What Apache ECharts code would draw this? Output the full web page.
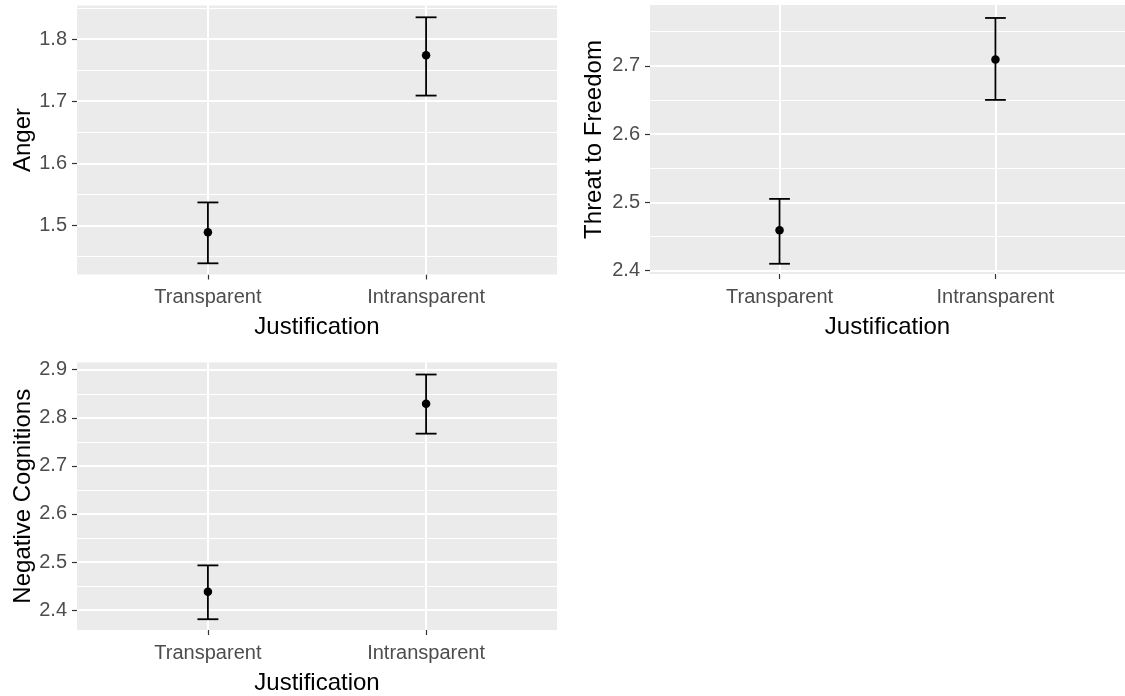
<!DOCTYPE html>
<html>
<head>
<meta charset="utf-8">
<script src="https://cdn.jsdelivr.net/npm/echarts@6/dist/echarts.min.js"></script>
<style>
  html, body { margin: 0; padding: 0; background: #ffffff; }
  #chart { width: 1125px; height: 696px; }
</style>
</head>
<body>
<div id="chart"></div>
<script>
// Group labels on the x axis (positions 1 and 2 on a discrete scale)
const categories = ['Transparent', 'Intransparent'];
const xTitle = 'Justification';

// Panel: Anger
const angerMean = [1.489, 1.774];
const angerLow  = [1.439, 1.709];
const angerHigh = [1.537, 1.835];
const angerTicks = [1.5, 1.6, 1.7, 1.8];
const angerMinor = [1.45, 1.55, 1.65, 1.75, 1.85];
const angerRange = [1.421, 1.854];

// Panel: Threat to Freedom
const threatMean = [2.459, 2.709];
const threatLow  = [2.410, 2.650];
const threatHigh = [2.505, 2.770];
const threatTicks = [2.4, 2.5, 2.6, 2.7];
const threatMinor = [2.45, 2.55, 2.65, 2.75];
const threatRange = [2.395, 2.789];

// Panel: Negative Cognitions
const cognMean = [2.438, 2.829];
const cognLow  = [2.381, 2.767];
const cognHigh = [2.493, 2.890];
const cognTicks = [2.4, 2.5, 2.6, 2.7, 2.8, 2.9];
const cognMinor = [2.35, 2.45, 2.55, 2.65, 2.75, 2.85];
const cognRange = [2.3586, 2.915];

const FONT = '"Liberation Sans", Arial, sans-serif';
const TICK_TEXT = '#4D4D4D';
const PANEL_BG = '#EBEBEB';
const CAP_WIDTH = 0.096;   // error-bar cap width in x units

const panels = [
  { title: 'Anger', mean: angerMean, low: angerLow, high: angerHigh,
    ticks: angerTicks, minor: angerMinor, range: angerRange,
    box: { left: 77, top: 5.5, width: 480, height: 269 }, nameGap: 42 },
  { title: 'Threat to Freedom', mean: threatMean, low: threatLow, high: threatHigh,
    ticks: threatTicks, minor: threatMinor, range: threatRange,
    box: { left: 650, top: 5, width: 480, height: 269 }, nameGap: 44 },
  { title: 'Negative Cognitions', mean: cognMean, low: cognLow, high: cognHigh,
    ticks: cognTicks, minor: cognMinor, range: cognRange,
    box: { left: 77, top: 362.5, width: 480, height: 269 }, nameGap: 42 }
];

const grid = [], xAxis = [], yAxis = [], series = [];

panels.forEach((p, i) => {
  grid.push(Object.assign({
    show: true, backgroundColor: PANEL_BG, borderWidth: 0, containLabel: false
  }, p.box));

  const xPositions = categories.map((_, k) => k + 1);

  xAxis.push({
    type: 'value', gridIndex: i, min: 0.4, max: 2.6,
    name: xTitle, nameLocation: 'middle', nameGap: 41,
    nameTextStyle: { color: '#000000', fontSize: 24, fontFamily: FONT },
    axisLine: { show: false },
    axisTick: { show: true, customValues: xPositions, length: 5,
      lineStyle: { color: '#333333', width: 1.2 } },
    axisLabel: { customValues: xPositions, margin: 13, color: TICK_TEXT,
      fontSize: 20, fontFamily: FONT,
      formatter: v => categories[Math.round(v) - 1] || '' },
    splitLine: { show: false }
  });

  yAxis.push({
    type: 'value', gridIndex: i, min: p.range[0], max: p.range[1],
    name: p.title, nameLocation: 'middle', nameRotate: 90, nameGap: p.nameGap,
    nameTextStyle: { color: '#000000', fontSize: 24, fontFamily: FONT },
    axisLine: { show: false },
    axisTick: { show: true, customValues: p.ticks, length: 5,
      lineStyle: { color: '#333333', width: 1.2 } },
    axisLabel: { customValues: p.ticks, margin: 10, color: TICK_TEXT,
      fontSize: 20, fontFamily: FONT, formatter: v => v.toFixed(1) },
    splitLine: { show: false }
  });

  // White panel grid: minor and major horizontal lines, major vertical lines
  const gridLines = [];
  p.minor.forEach(v => gridLines.push({ yAxis: v, lineStyle: { width: 1.1 } }));
  p.ticks.forEach(v => gridLines.push({ yAxis: v, lineStyle: { width: 2 } }));
  xPositions.forEach(v => gridLines.push({ xAxis: v, lineStyle: { width: 2 } }));

  series.push({
    type: 'scatter', xAxisIndex: i, yAxisIndex: i, data: [], z: 1,
    silent: true,
    markLine: {
      silent: true, symbol: 'none', animation: false, z: 1,
      label: { show: false },
      lineStyle: { color: '#FFFFFF', type: 'solid' },
      emphasis: { disabled: true },
      data: gridLines
    }
  });

  // Error bars
  series.push({
    type: 'custom', xAxisIndex: i, yAxisIndex: i, z: 10, silent: true,
    data: xPositions.map((x, k) => [x, p.low[k], p.high[k]]),
    renderItem: (params, api) => {
      const x = api.value(0), lo = api.value(1), hi = api.value(2);
      const top = api.coord([x, hi]);
      const bot = api.coord([x, lo]);
      const l = api.coord([x - CAP_WIDTH / 2, hi])[0];
      const r = api.coord([x + CAP_WIDTH / 2, hi])[0];
      const style = { stroke: '#000000', lineWidth: 1.8 };
      return {
        type: 'group',
        children: [
          { type: 'line', shape: { x1: top[0], y1: top[1], x2: bot[0], y2: bot[1] }, style },
          { type: 'line', shape: { x1: l, y1: top[1], x2: r, y2: top[1] }, style },
          { type: 'line', shape: { x1: l, y1: bot[1], x2: r, y2: bot[1] }, style }
        ]
      };
    }
  });

  // Group means
  series.push({
    type: 'scatter', xAxisIndex: i, yAxisIndex: i, z: 11, silent: true,
    symbol: 'circle', symbolSize: 8.5,
    itemStyle: { color: '#000000', opacity: 1 },
    data: xPositions.map((x, k) => [x, p.mean[k]])
  });
});

const chart = echarts.init(document.getElementById('chart'), null, { renderer: 'canvas' });
chart.setOption({
  animation: false,
  backgroundColor: '#FFFFFF',
  textStyle: { fontFamily: FONT },
  grid, xAxis, yAxis, series
});
</script>
</body>
</html>
